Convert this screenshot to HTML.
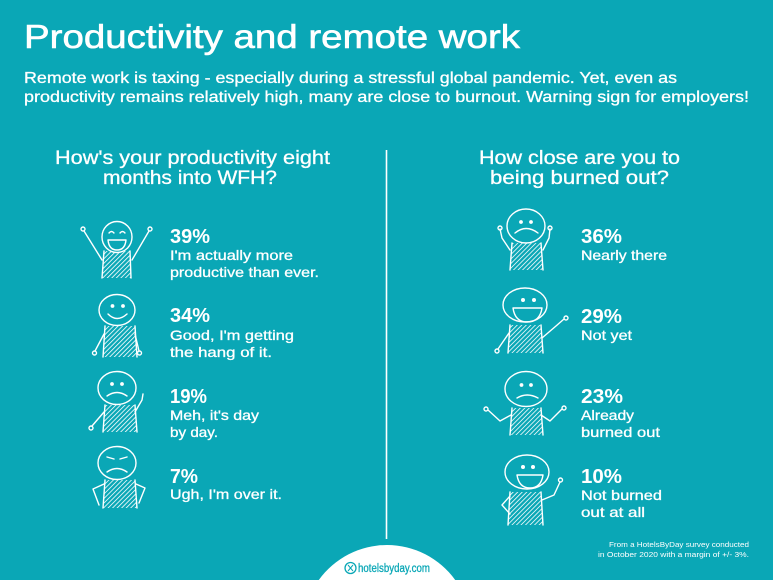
<!DOCTYPE html>
<html><head><meta charset="utf-8"><style>
html,body{margin:0;padding:0;background:#0aa7b6;width:773px;height:580px;overflow:hidden;}
svg{display:block;}
text{font-family:"Liberation Sans",Arial,sans-serif;fill:#fff;}
.m{stroke:#fff;stroke-width:0.3px;}
.t{stroke:#fff;stroke-width:0.6px;}
</style></head><body>
<svg width="773" height="580" viewBox="0 0 773 580" xmlns="http://www.w3.org/2000/svg">
<defs>
<pattern id="h" width="3.2" height="3.2" patternUnits="userSpaceOnUse" patternTransform="rotate(45)">
<line x1="0" y1="0" x2="0" y2="3.2" stroke="#fff" stroke-width="1.6"/>
</pattern>
</defs>
<rect width="773" height="580" fill="#0aa7b6"/>

<text class="t" x="24" y="48" font-size="33" textLength="496" lengthAdjust="spacingAndGlyphs">Productivity and remote work</text>
<text class="m" x="24" y="83" font-size="16" textLength="653" lengthAdjust="spacingAndGlyphs">Remote work is taxing - especially during a stressful global pandemic. Yet, even as</text>
<text class="m" x="24" y="102" font-size="16" textLength="725" lengthAdjust="spacingAndGlyphs">productivity remains relatively high, many are close to burnout. Warning sign for employers!</text>

<text class="m" x="55" y="164" font-size="19" textLength="275" lengthAdjust="spacingAndGlyphs">How's your productivity eight</text>
<text class="m" x="103" y="184" font-size="19" textLength="174" lengthAdjust="spacingAndGlyphs">months into WFH?</text>
<text class="m" x="479" y="164" font-size="19" textLength="201" lengthAdjust="spacingAndGlyphs">How close are you to</text>
<text class="m" x="490" y="184" font-size="19" textLength="179" lengthAdjust="spacingAndGlyphs">being burned out?</text>

<line x1="386.5" y1="150" x2="386.5" y2="539" stroke="#fff" stroke-width="1.6"/>

<!-- Left texts -->
<g>
<text x="170" y="243" font-size="20" font-weight="bold" textLength="40" lengthAdjust="spacingAndGlyphs">39%</text>
<text class="m" x="170" y="260" font-size="14" textLength="123" lengthAdjust="spacingAndGlyphs">I'm actually more</text>
<text class="m" x="170" y="277" font-size="14" textLength="149" lengthAdjust="spacingAndGlyphs">productive than ever.</text>

<text x="170" y="322" font-size="20" font-weight="bold" textLength="40" lengthAdjust="spacingAndGlyphs">34%</text>
<text class="m" x="170" y="340" font-size="14" textLength="124" lengthAdjust="spacingAndGlyphs">Good, I'm getting</text>
<text class="m" x="170" y="357" font-size="14" textLength="102" lengthAdjust="spacingAndGlyphs">the hang of it.</text>

<text x="170" y="403" font-size="20" font-weight="bold" textLength="37" lengthAdjust="spacingAndGlyphs">19%</text>
<text class="m" x="170" y="420" font-size="14" textLength="89" lengthAdjust="spacingAndGlyphs">Meh, it's day</text>
<text class="m" x="170" y="437" font-size="14" textLength="48" lengthAdjust="spacingAndGlyphs">by day.</text>

<text x="170" y="483" font-size="20" font-weight="bold" textLength="28" lengthAdjust="spacingAndGlyphs">7%</text>
<text class="m" x="170" y="499" font-size="14" textLength="112" lengthAdjust="spacingAndGlyphs">Ugh, I'm over it.</text>
</g>

<!-- Right texts -->
<g>
<text x="581" y="243" font-size="20" font-weight="bold" textLength="41" lengthAdjust="spacingAndGlyphs">36%</text>
<text class="m" x="581" y="260" font-size="14" textLength="86" lengthAdjust="spacingAndGlyphs">Nearly there</text>

<text x="581" y="323" font-size="20" font-weight="bold" textLength="41" lengthAdjust="spacingAndGlyphs">29%</text>
<text class="m" x="581" y="340" font-size="14" textLength="51" lengthAdjust="spacingAndGlyphs">Not yet</text>

<text x="581" y="403" font-size="20" font-weight="bold" textLength="42" lengthAdjust="spacingAndGlyphs">23%</text>
<text class="m" x="581" y="420" font-size="14" textLength="53" lengthAdjust="spacingAndGlyphs">Already</text>
<text class="m" x="581" y="437" font-size="14" textLength="79" lengthAdjust="spacingAndGlyphs">burned out</text>

<text x="581" y="483" font-size="20" font-weight="bold" textLength="41" lengthAdjust="spacingAndGlyphs">10%</text>
<text class="m" x="581" y="500" font-size="14" textLength="81" lengthAdjust="spacingAndGlyphs">Not burned</text>
<text class="m" x="581" y="517" font-size="14" textLength="64" lengthAdjust="spacingAndGlyphs">out at all</text>
</g>

<!-- Figures -->
<g fill="none" stroke="#fff" stroke-width="1.4" stroke-linecap="round" stroke-linejoin="round">
<!-- L1 -->
<path d="M104 251 L102 278 L131 278 L130 251 Z" fill="url(#h)" stroke="none"/>
<path d="M104 251 L102 278 M130 251 L131 278"/>
<ellipse cx="117" cy="237" rx="15" ry="15.5" fill="#0aa7b6"/>
<path d="M109 233 q2.5 -3 5 0 M120 233 q2.5 -3 5 0"/>
<path d="M108 240 L126 240 Q125 250 117 250 Q109 250 108 240 Z"/>
<path d="M102 260 L84 231 M132 260 L149 231"/>
<circle cx="83" cy="229" r="2"/><circle cx="150" cy="229" r="2"/>

<!-- L2 -->
<path d="M105 326 L103 357 L137 357 L135 326 Z" fill="url(#h)" stroke="none"/>
<path d="M105 326 L103 357 M135 326 L137 357"/>
<ellipse cx="117" cy="310" rx="18" ry="15.5" fill="#0aa7b6"/>
<circle cx="112.5" cy="306" r="1.2" fill="#fff"/><circle cx="123" cy="306" r="1.2" fill="#fff"/>
<path d="M108 314 Q117 323 127 314"/>
<path d="M104 334 L95 351 M135 334 L139 351"/>
<circle cx="94.5" cy="353" r="2"/><circle cx="139.5" cy="353" r="2"/>

<!-- L3 -->
<path d="M105 405 L103 432 L137 432 L135 405 Z" fill="url(#h)" stroke="none"/>
<path d="M105 405 L103 432 M135 405 L137 432"/>
<ellipse cx="117" cy="388" rx="19" ry="16.5" fill="#0aa7b6"/>
<circle cx="112" cy="384" r="1.2" fill="#fff"/><circle cx="122" cy="384" r="1.2" fill="#fff"/>
<path d="M107 396 Q117 389 127 396"/>
<path d="M104 412 L92 426 M135 412 L142 400 L143 394"/>
<circle cx="91" cy="428" r="2"/>

<!-- L4 -->
<path d="M105 480 L103 508 L137 508 L135 480 Z" fill="url(#h)" stroke="none"/>
<path d="M105 480 L103 508 M135 480 L137 508"/>
<ellipse cx="117" cy="463" rx="19" ry="16.5" fill="#0aa7b6"/>
<path d="M107 457 L114 459 M120 459 L127 457"/>
<path d="M107 472 Q117 465 127 472"/>
<path d="M104 484 L93 489 L99 505 M136 484 L145 488 L139 503"/>

<!-- R1 -->
<path d="M512 243 L510 270 L543 270 L541 243 Z" fill="url(#h)" stroke="none"/>
<path d="M512 243 L510 270 M541 243 L543 270"/>
<ellipse cx="526" cy="226" rx="19" ry="17" fill="#0aa7b6"/>
<circle cx="521" cy="222" r="1.2" fill="#fff"/><circle cx="531" cy="222" r="1.2" fill="#fff"/>
<path d="M515 233 Q526 224 538 233"/>
<path d="M510 250 L502 238 L500 229 M543 250 L549 238 L550 229"/>
<circle cx="500" cy="228" r="2"/><circle cx="550" cy="228" r="2"/>

<!-- R2 -->
<path d="M510 325 L508 353 L543 353 L541 325 Z" fill="url(#h)" stroke="none"/>
<path d="M510 325 L508 353 M541 325 L543 353"/>
<ellipse cx="525" cy="305" rx="22" ry="17" fill="#0aa7b6"/>
<circle cx="523" cy="300" r="1.3" fill="#fff"/><circle cx="534" cy="300" r="1.3" fill="#fff"/>
<path d="M513 308 L542 308 Q540 322 527 322 Q515 322 513 308 Z"/>
<path d="M509 333 L498 349 M542 338 L556 326 L564 319"/>
<circle cx="497" cy="351" r="2"/><circle cx="566" cy="318" r="2"/>

<!-- R3 -->
<path d="M512 408 L510 435 L543 435 L541 408 Z" fill="url(#h)" stroke="none"/>
<path d="M512 408 L510 435 M541 408 L543 435"/>
<ellipse cx="526" cy="389" rx="21" ry="17.5" fill="#0aa7b6"/>
<circle cx="521.5" cy="385" r="1.2" fill="#fff"/><circle cx="531" cy="385" r="1.2" fill="#fff"/>
<path d="M517 398 Q527 392 538 398"/>
<path d="M511 415 L500 421 L488 410 M541 415 L550 421 L562 409"/>
<circle cx="486" cy="409" r="2"/><circle cx="564" cy="408" r="2"/>

<!-- R4 -->
<path d="M510 492 L508 525 L543 525 L541 492 Z" fill="url(#h)" stroke="none"/>
<path d="M510 492 L508 525 M541 492 L543 525"/>
<ellipse cx="527" cy="472" rx="22" ry="17" fill="#0aa7b6"/>
<circle cx="523" cy="467" r="1.3" fill="#fff"/><circle cx="533" cy="467" r="1.3" fill="#fff"/>
<path d="M517 475 L543 475 Q541 488 530 488 Q519 488 517 475 Z"/>
<path d="M510 496 L502 505 L510 514 M542 500 L554 495 L560 482"/>
<circle cx="560.5" cy="480" r="2"/>
</g>

<!-- Footnote -->
<text x="609" y="547" font-size="7.5" textLength="140" lengthAdjust="spacingAndGlyphs">From a HotelsByDay survey conducted</text>
<text x="598" y="557" font-size="7.5" textLength="151" lengthAdjust="spacingAndGlyphs">in October 2020 with a margin of +/- 3%.</text>

<!-- Logo -->
<path d="M318.8 580 A84 84 0 0 1 455.2 580 Z" fill="#fff"/>
<circle cx="350.5" cy="568" r="5.5" fill="none" stroke="#0aa7b6" stroke-width="1.3"/>
<path d="M348 565 L353 571 M353 565 L348 571" stroke="#0aa7b6" stroke-width="1"/>
<text x="358" y="572" font-size="11.5" textLength="72" lengthAdjust="spacingAndGlyphs" style="fill:#0aa7b6;stroke:#0aa7b6;stroke-width:0.3px">hotelsbyday.com</text>
</svg>
</body></html>
